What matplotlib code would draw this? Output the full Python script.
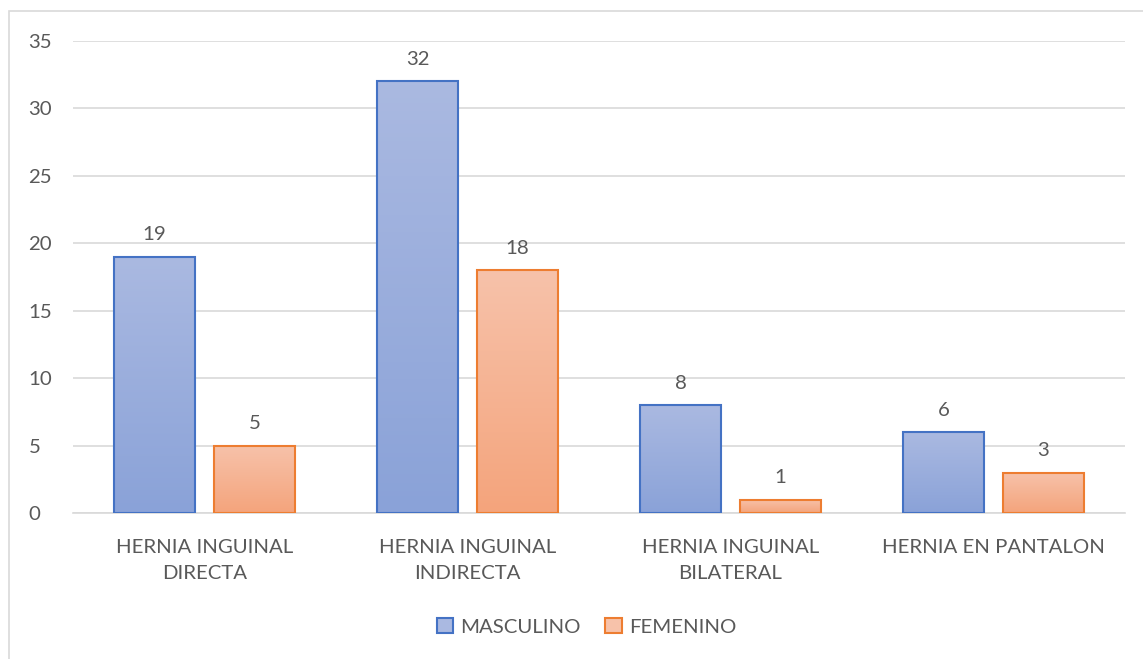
import numpy as np
import matplotlib.pyplot as plt
from matplotlib.colors import LinearSegmentedColormap
from matplotlib.patches import Rectangle

# ================= 数据 =================
categorias = ["HERNIA INGUINAL\nDIRECTA", "HERNIA INGUINAL\nINDIRECTA",
              "HERNIA INGUINAL\nBILATERAL", "HERNIA EN PANTALON"]
masculino = [19, 32, 8, 6]
femenino = [5, 18, 1, 3]
series = ["MASCULINO", "FEMENINO"]

GRIS = "#595959"
FS = 14.7
plt.rcParams['font.family'] = ['Lato', 'DejaVu Sans']

fig = plt.figure(figsize=(11.43, 6.59), dpi=100)
ax = fig.add_axes([0.0639, 0.2215, 0.9204, 0.7163])

# borde exterior del gráfico
fig.patches.append(Rectangle((9 / 1143, -0.05), 1.2, 1 - 11 / 659 + 0.05,
                             transform=fig.transFigure, fill=False,
                             edgecolor="#d9d9d9", linewidth=1.2))

x = np.arange(len(categorias))
w = 0.308
off = 0.19

estilos = [
    (masculino, -off, "#4472c4", ["#aab9e1", "#8aa2d8"]),
    (femenino, off, "#ed7d31", ["#f7c2aa", "#f4a47c"]),
]

for vals, dx, borde, grad in estilos:
    cmap = LinearSegmentedColormap.from_list("g", grad[::-1])
    bars = ax.bar(x + dx, vals, w, facecolor="none", edgecolor=borde,
                  linewidth=1.5, zorder=3)
    for b, v in zip(bars, vals):
        x0 = b.get_x()
        im = ax.imshow(np.linspace(0, 1, 100).reshape(-1, 1), cmap=cmap,
                       aspect="auto", origin="lower",
                       extent=[x0, x0 + w, 0, v], zorder=2)
        im.set_clip_path(b)
        ax.text(x0 + w / 2, v + 1.0, str(v), ha="center", va="bottom",
                fontsize=FS, color=GRIS)

ax.set_xlim(-0.5, 3.5)
ax.set_ylim(0, 35)
ax.set_yticks(range(0, 36, 5))
ax.set_xticks(x)
ax.set_xticklabels(categorias, fontsize=FS, color=GRIS, linespacing=1.6)
ax.tick_params(axis="y", labelsize=FS, labelcolor=GRIS, length=0, pad=32)
ax.tick_params(axis="x", length=0, pad=19)
ax.grid(axis="y", color="#d9d9d9", linewidth=1.2, zorder=0)
for s in ["top", "right", "left"]:
    ax.spines[s].set_visible(False)
ax.spines["bottom"].set_color("#d9d9d9")
ax.spines["bottom"].set_linewidth(1.2)
for lab in ax.get_yticklabels():
    lab.set_horizontalalignment("left")

handles = [Rectangle((0, 0), 1, 1, facecolor=estilos[i][3][0],
                     edgecolor=estilos[i][2], linewidth=1.5) for i in range(2)]
fig.legend(handles, series, loc="center", bbox_to_anchor=(0.513, 0.049),
           ncol=2, frameon=False, fontsize=FS, labelcolor=GRIS,
           handlelength=0.8, handleheight=0.8, handletextpad=0.35,
           columnspacing=1.2)

fig.savefig("out.png", dpi=100)
